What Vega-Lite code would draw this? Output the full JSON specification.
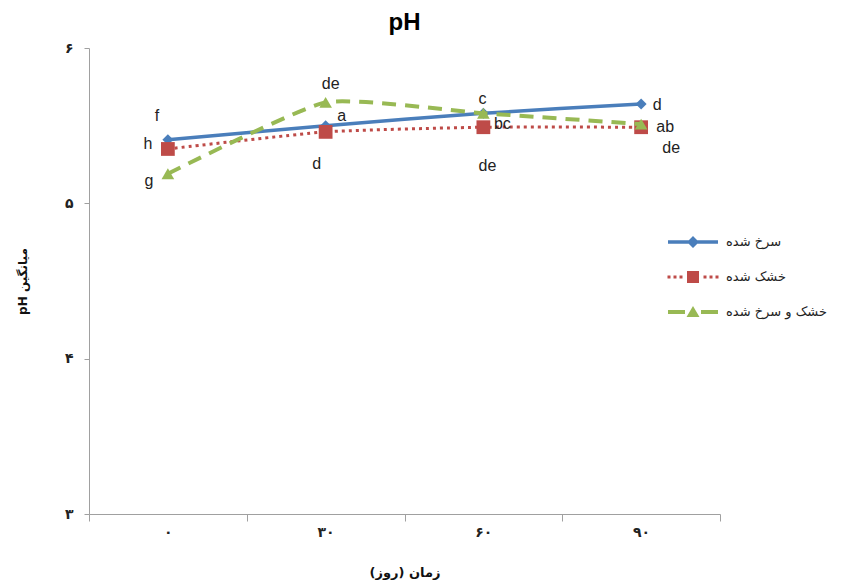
{
  "$schema": "https://vega.github.io/schema/vega-lite/v6.json",
  "width": 631,
  "height": 466,
  "autosize": {"type": "none"},
  "padding": {"left": 89, "top": 48, "right": 123, "bottom": 70},
  "background": "white",
  "title": {"text": "pH", "fontSize": 24, "font": "Liberation Sans", "fontWeight": "bold", "color": "#000000", "offset": 6, "anchor": "middle"},
  "data": {"values": [
    {"day": 0, "treatment": "سرخ شده", "pH": 5.41, "letter": "f"},
    {"day": 30, "treatment": "سرخ شده", "pH": 5.50, "letter": "a"},
    {"day": 60, "treatment": "سرخ شده", "pH": 5.58, "letter": "c"},
    {"day": 90, "treatment": "سرخ شده", "pH": 5.64, "letter": "d"},
    {"day": 0, "treatment": "خشک شده", "pH": 5.35, "letter": "h"},
    {"day": 30, "treatment": "خشک شده", "pH": 5.46, "letter": "d"},
    {"day": 60, "treatment": "خشک شده", "pH": 5.49, "letter": "de"},
    {"day": 90, "treatment": "خشک شده", "pH": 5.49, "letter": "de"},
    {"day": 0, "treatment": "خشک و سرخ شده", "pH": 5.19, "letter": "g"},
    {"day": 30, "treatment": "خشک و سرخ شده", "pH": 5.65, "letter": "de"},
    {"day": 60, "treatment": "خشک و سرخ شده", "pH": 5.58, "letter": "bc"},
    {"day": 90, "treatment": "خشک و سرخ شده", "pH": 5.51, "letter": "ab"}
  ]},
  "encoding": {
    "x": {
      "field": "day", "type": "ordinal",
      "scale": {"type": "band", "paddingInner": 0, "paddingOuter": 0},
      "axis": {
        "labelAngle": 0,
        "labelExpr": "datum.value === 0 ? '۰' : datum.value === 30 ? '۳۰' : datum.value === 60 ? '۶۰' : datum.value === 90 ? '۹۰' : ''",
        "title": "\u202bزمان (روز)\u202c",
        "tickBand": "extent",
        "domainColor": "#a0a0a0", "tickColor": "#a0a0a0", "tickSize": 7,
        "labelFont": "DejaVu Sans", "labelFontSize": 14, "labelFontWeight": "bold", "labelColor": "#222222", "labelPadding": 4,
        "titleFont": "DejaVu Sans", "titleFontSize": 13, "titleFontWeight": "bold", "titleColor": "#111111", "titlePadding": 27
      }
    },
    "y": {
      "field": "pH", "type": "quantitative",
      "scale": {"domain": [3, 6], "nice": false, "zero": false},
      "axis": {
        "values": [3, 4, 5, 6],
        "labelExpr": "datum.value == 3 ? '۳' : datum.value == 4 ? '۴' : datum.value == 5 ? '۵' : '۶'",
        "title": "pH میانگین",
        "grid": false,
        "domainColor": "#a0a0a0", "tickColor": "#a0a0a0", "tickSize": 5,
        "labelFont": "DejaVu Sans", "labelFontSize": 14, "labelFontWeight": "bold", "labelColor": "#222222", "labelPadding": 11,
        "titleFont": "DejaVu Sans", "titleFontSize": 12, "titleFontWeight": "bold", "titleColor": "#111111", "titlePadding": 35
      }
    }
  },
  "layer": [
    {"transform": [{"filter": "datum.treatment == 'سرخ شده'"}], "mark": {"type": "line", "color": "#4A7EBB", "strokeWidth": 3.5, "interpolate": "cardinal", "tension": 0.5}},
    {"transform": [{"filter": "datum.treatment == 'سرخ شده'"}], "mark": {"type": "point", "shape": "diamond", "filled": true, "color": "#4A7EBB", "size": 120, "opacity": 1}},
    {"transform": [{"filter": "datum.treatment == 'خشک شده'"}], "mark": {"type": "line", "color": "#BE4B48", "strokeWidth": 3, "strokeDash": [3, 4], "interpolate": "cardinal", "tension": 0.5}},
    {"transform": [{"filter": "datum.treatment == 'خشک شده'"}], "mark": {"type": "point", "shape": "square", "filled": true, "color": "#BE4B48", "size": 190, "opacity": 1}},
    {"transform": [{"filter": "datum.treatment == 'خشک و سرخ شده'"}], "mark": {"type": "line", "color": "#98B954", "strokeWidth": 4, "strokeDash": [14, 9], "interpolate": "cardinal", "tension": 0.5}},
    {"transform": [{"filter": "datum.treatment == 'خشک و سرخ شده'"}], "mark": {"type": "point", "shape": "triangle-up", "filled": true, "color": "#98B954", "size": 160, "opacity": 1}},
    {
      "mark": {"type": "point", "filled": true, "opacity": 0},
      "encoding": {
        "color": {"field": "treatment", "type": "nominal",
          "scale": {"domain": ["سرخ شده", "خشک شده", "خشک و سرخ شده"], "range": ["#4A7EBB", "#BE4B48", "#98B954"]},
          "legend": {"title": null, "orient": "none", "legendX": 594, "legendY": 184, "padding": 0,
            "symbolSize": 400, "symbolOpacity": 1, "symbolStrokeWidth": 0, "labelOffset": 23, "rowPadding": 18,
            "labelFont": "DejaVu Sans", "labelFontSize": 13, "labelColor": "#222222", "labelLimit": 300}},
        "shape": {"field": "treatment", "type": "nominal",
          "scale": {"domain": ["سرخ شده", "خشک شده", "خشک و سرخ شده"], "range": [
            "M-2.5,-0.17H2.5V0.17H-2.5Z M0,-0.6L0.6,0L0,0.6L-0.6,0Z",
            "M-2.55,-0.15h0.3v0.3h-0.3Z M-1.95,-0.15h0.3v0.3h-0.3Z M-1.35,-0.15h0.3v0.3h-0.3Z M1.05,-0.15h0.3v0.3h-0.3Z M1.65,-0.15h0.3v0.3h-0.3Z M2.25,-0.15h0.3v0.3h-0.3Z M-0.6,-0.6H0.6V0.6H-0.6Z",
            "M-2.5,-0.2H-0.8V0.2H-2.5Z M0.8,-0.2H2.5V0.2H0.8Z M0,-0.6L0.65,0.5H-0.65Z"
          ]},
          "legend": null}
      }
    },
    {"transform": [{"filter": "datum.day == 0 && datum.treatment == 'سرخ شده'"}], "mark": {"type": "text", "dx": -11, "dy": -24, "font": "Liberation Sans", "fontSize": 16, "color": "#222222"}, "encoding": {"text": {"field": "letter"}}},
    {"transform": [{"filter": "datum.day == 0 && datum.treatment == 'خشک شده'"}], "mark": {"type": "text", "dx": -20, "dy": -5, "font": "Liberation Sans", "fontSize": 16, "color": "#222222"}, "encoding": {"text": {"field": "letter"}}},
    {"transform": [{"filter": "datum.day == 0 && datum.treatment == 'خشک و سرخ شده'"}], "mark": {"type": "text", "dx": -19, "dy": 7, "font": "Liberation Sans", "fontSize": 16, "color": "#222222"}, "encoding": {"text": {"field": "letter"}}},
    {"transform": [{"filter": "datum.day == 30 && datum.treatment == 'خشک و سرخ شده'"}], "mark": {"type": "text", "dx": 5, "dy": -18, "font": "Liberation Sans", "fontSize": 16, "color": "#222222"}, "encoding": {"text": {"field": "letter"}}},
    {"transform": [{"filter": "datum.day == 30 && datum.treatment == 'سرخ شده'"}], "mark": {"type": "text", "dx": 16, "dy": -10, "font": "Liberation Sans", "fontSize": 16, "color": "#222222"}, "encoding": {"text": {"field": "letter"}}},
    {"transform": [{"filter": "datum.day == 30 && datum.treatment == 'خشک شده'"}], "mark": {"type": "text", "dx": -9, "dy": 32, "font": "Liberation Sans", "fontSize": 16, "color": "#222222"}, "encoding": {"text": {"field": "letter"}}},
    {"transform": [{"filter": "datum.day == 60 && datum.treatment == 'سرخ شده'"}], "mark": {"type": "text", "dx": -1, "dy": -14, "font": "Liberation Sans", "fontSize": 16, "color": "#222222"}, "encoding": {"text": {"field": "letter"}}},
    {"transform": [{"filter": "datum.day == 60 && datum.treatment == 'خشک و سرخ شده'"}], "mark": {"type": "text", "dx": 19, "dy": 11, "font": "Liberation Sans", "fontSize": 16, "color": "#222222"}, "encoding": {"text": {"field": "letter"}}},
    {"transform": [{"filter": "datum.day == 60 && datum.treatment == 'خشک شده'"}], "mark": {"type": "text", "dx": 4, "dy": 39, "font": "Liberation Sans", "fontSize": 16, "color": "#222222"}, "encoding": {"text": {"field": "letter"}}},
    {"transform": [{"filter": "datum.day == 90 && datum.treatment == 'سرخ شده'"}], "mark": {"type": "text", "dx": 16, "dy": 1, "font": "Liberation Sans", "fontSize": 16, "color": "#222222"}, "encoding": {"text": {"field": "letter"}}},
    {"transform": [{"filter": "datum.day == 90 && datum.treatment == 'خشک و سرخ شده'"}], "mark": {"type": "text", "dx": 24, "dy": 3, "font": "Liberation Sans", "fontSize": 16, "color": "#222222"}, "encoding": {"text": {"field": "letter"}}},
    {"transform": [{"filter": "datum.day == 90 && datum.treatment == 'خشک شده'"}], "mark": {"type": "text", "dx": 30, "dy": 21, "font": "Liberation Sans", "fontSize": 16, "color": "#222222"}, "encoding": {"text": {"field": "letter"}}}
  ],
  "config": {"view": {"stroke": null}}
}
